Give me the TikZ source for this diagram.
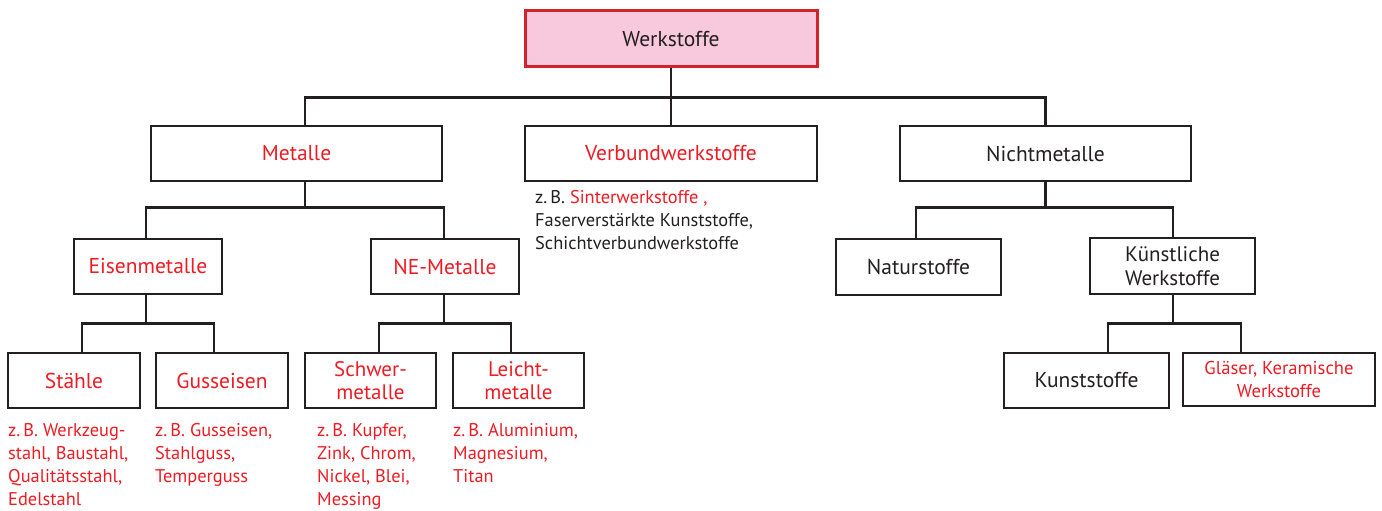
\documentclass[tikz,border=0pt]{standalone}
\usepackage{fontspec}
\setmainfont{PT Sans}
\usetikzlibrary{calc}
\definecolor{ink}{HTML}{231F20}
\definecolor{hl}{HTML}{ED1C24}
\definecolor{rootfill}{HTML}{F8C8DC}
\definecolor{rootedge}{HTML}{D2232A}

\begin{document}
\begin{tikzpicture}[x=1pt,y=-1pt,
  box/.style={draw=ink, line width=2.3pt, fill=white, inner sep=0pt,
    align=center, text=ink, font=\fontsize{21.5}{23}\selectfont},
  twoline/.style={font=\fontsize{21}{23.5}\selectfont},
  hltext/.style={text=hl},
  rootbox/.style={box, draw=rootedge, fill=rootfill, line width=3pt},
  conn/.style={draw=ink, line width=2.8pt},
  note/.style={anchor=north west, inner sep=0pt, align=left, text=hl,
    font=\fontsize{18.4}{23}\selectfont}]
\useasboundingbox (0,0) rectangle (1382,511);

% root
\node[rootbox, minimum width=292, minimum height=56] (root) at (671,39) {Werkstoffe};

% first level
\node[box, hltext, minimum width=291, minimum height=55] (metalle) at (296.5,153.5) {Metalle};
\node[box, hltext, minimum width=292, minimum height=55] (verbund) at (671,153.5) {Verbundwerkstoffe};
\node[box, minimum width=291, minimum height=55] (nicht) at (1045.5,153.5) {Nichtmetalle};

% metals
\node[box, hltext, minimum width=148, minimum height=55] (eisen) at (148,266.5) {Eisenmetalle};
\node[box, hltext, minimum width=148, minimum height=55] (ne) at (445,266.5) {NE-Metalle};
\node[box, hltext, minimum width=132, minimum height=55] (staehle) at (74,380.5) {Stähle};
\node[box, hltext, minimum width=132, minimum height=55] (guss) at (222,380.5) {Gusseisen};
\node[box, twoline, hltext, minimum width=131, minimum height=55] (schwer) at (370.5,380.5) {Schwer-\\metalle};
\node[box, twoline, hltext, minimum width=131, minimum height=55] (leicht) at (518.5,380.5) {Leicht-\\metalle};

% non-metals
\node[box, minimum width=165, minimum height=56] (natur) at (918.5,267) {Naturstoffe};
\node[box, twoline, minimum width=165, minimum height=56] (kuenst) at (1172.5,266) {Künstliche\\Werkstoffe};
\node[box, minimum width=165, minimum height=55] (kunst) at (1086.5,380.5) {Kunststoffe};
\node[box, hltext, font=\fontsize{18.6}{23}\selectfont, minimum width=192, minimum height=53] (glas) at (1279,379.5) {Gläser, Keramische\\Werkstoffe};

% examples
\node[note] (nstaehle) at (8,423) {z.\,B. Werkzeug-\\stahl, Baustahl,\\Qualitätsstahl,\\Edelstahl};
\node[note] (nguss) at (155,423) {z.\,B. Gusseisen,\\Stahlguss,\\Temperguss};
\node[note] (nschwer) at (317,423) {z.\,B. Kupfer,\\Zink, Chrom,\\Nickel, Blei,\\Messing};
\node[note] (nleicht) at (453,423) {z.\,B. Aluminium,\\Magnesium,\\Titan};
\node[note, text=ink] (nverbund) at (535,190) {z.\,B. \textcolor{hl}{Sinterwerkstoffe ,}\\Faserverstärkte Kunststoffe,\\Schichtverbundwerkstoffe};

% connectors
\draw[conn] (root.south) -- ++(0,29) coordinate (j1);
\draw[conn] ($(metalle.north)+(8.5,0)$) |- (j1) -| (nicht.north);
\draw[conn] (j1) -- (verbund.north);

\draw[conn] ($(metalle.south)+(8.5,0)$) -- ++(0,25) coordinate (j2);
\draw[conn] ($(eisen.north)+(-2,0)$) |- (j2) -| ($(ne.north)+(-1,0)$);

\draw[conn] ($(eisen.south)+(-2,0)$) -- ++(0,28) coordinate (j3);
\draw[conn] ($(staehle.north)+(8,0)$) |- (j3) -| ($(guss.north)+(-8,0)$);

\draw[conn] ($(ne.south)+(-1,0)$) -- ++(0,28) coordinate (j4);
\draw[conn] ($(schwer.north)+(8.5,0)$) |- (j4) -| ($(leicht.north)+(-7.5,0)$);

\draw[conn] (nicht.south) -- ++(0,25) coordinate (j5);
\draw[conn] ($(natur.north)+(-2.5,0)$) |- (j5) -| ($(kuenst.north)+(0.5,0)$);

\draw[conn] ($(kuenst.south)+(0.5,0)$) -- ++(0,28) coordinate (j6);
\draw[conn] ($(kunst.north)+(21.5,0)$) |- (j6) -| ($(glas.north)+(-38,0)$);
\end{tikzpicture}
\end{document}
